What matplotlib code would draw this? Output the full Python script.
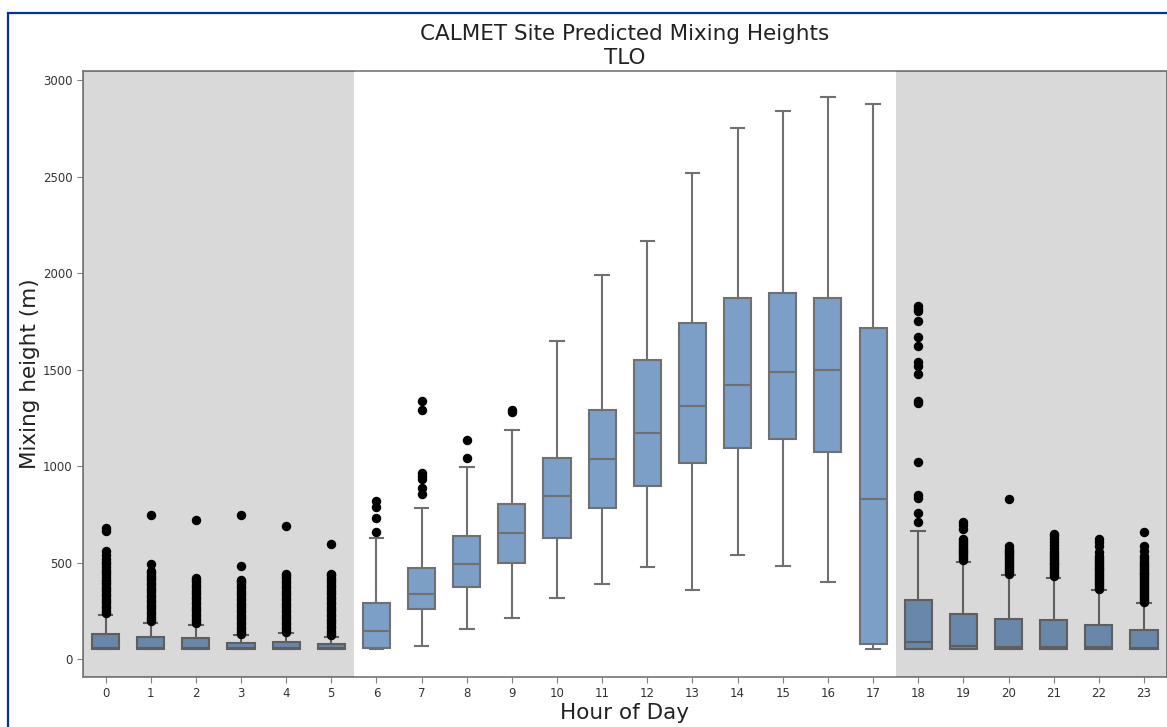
import numpy as np
import matplotlib.pyplot as plt
from matplotlib.patches import Rectangle

# hora do dia
hours = list(range(24))

# estatisticas das caixas (m)
q1 = [52, 52, 52, 52, 52, 52, 57, 260, 372, 499, 625, 782, 897, 1016, 1096, 1139, 1075, 78,
      54, 54, 54, 54, 54, 54]
med = [58, 56, 56, 58, 58, 58, 143, 339, 493, 651, 845, 1039, 1170, 1312, 1420, 1489, 1498, 828,
       88, 65, 62, 62, 62, 57]
q3 = [130, 114, 109, 83, 88, 79, 291, 473, 637, 805, 1042, 1292, 1551, 1742, 1870, 1894, 1872, 1714,
      305, 235, 208, 204, 178, 152]
whislo = [50, 50, 50, 50, 50, 50, 50, 65, 156, 215, 317, 391, 479, 358, 538, 481, 398, 52,
          50, 50, 50, 50, 50, 50]
whishi = [230, 187, 177, 123, 135, 114, 627, 782, 997, 1188, 1648, 1991, 2166, 2519, 2750, 2838, 2910, 2874,
          665, 504, 434, 422, 356, 291]

# outliers
fliers = [
    [238, 250, 262, 275, 288, 300, 312, 325, 338, 350, 362, 375, 388, 400, 412, 425, 438, 450,
     462, 475, 490, 505, 520, 540, 558, 665, 678],
    [195, 207, 220, 232, 245, 258, 270, 282, 295, 308, 320, 332, 345, 358, 370, 382, 395, 408,
     420, 432, 445, 455, 490, 748],
    [185, 197, 210, 222, 235, 248, 260, 272, 285, 298, 310, 322, 335, 348, 360, 372, 385, 398,
     410, 420, 718],
    [130, 142, 155, 167, 180, 192, 205, 218, 230, 242, 255, 268, 280, 292, 305, 318, 330, 342,
     355, 368, 380, 392, 405, 412, 481, 744],
    [142, 155, 167, 180, 192, 205, 218, 230, 242, 255, 268, 280, 292, 305, 318, 330, 342, 355,
     368, 380, 392, 405, 418, 430, 440, 689],
    [122, 134, 147, 160, 172, 185, 198, 210, 222, 235, 248, 260, 272, 285, 298, 310, 322, 335,
     348, 360, 372, 385, 398, 410, 422, 435, 443, 597],
    [660, 732, 788, 820],
    [853, 888, 932, 949, 966, 1290, 1338],
    [1044, 1136],
    [1278, 1291],
    [], [], [], [], [], [], [], [],
    [712, 755, 836, 848, 1021, 1326, 1338, 1477, 1520, 1541, 1624, 1668, 1751, 1801, 1815, 1829],
    [512, 522, 532, 542, 552, 562, 572, 582, 592, 602, 612, 620, 675, 695, 710],
    [442, 452, 462, 472, 482, 492, 502, 512, 522, 532, 542, 552, 562, 572, 585, 828],
    [430, 440, 450, 460, 470, 480, 490, 500, 510, 520, 530, 540, 550, 560, 575, 590, 605, 620,
     635, 646],
    [364, 374, 384, 394, 404, 414, 424, 434, 444, 454, 464, 474, 484, 494, 504, 514, 524, 534,
     555, 585, 605, 620],
    [298, 308, 318, 328, 338, 348, 358, 368, 378, 388, 398, 408, 418, 428, 438, 448, 458, 468,
     478, 488, 498, 510, 522, 533, 560, 585, 660],
]

stats = [dict(q1=a, med=b, q3=c, whislo=d, whishi=e, fliers=f)
         for a, b, c, d, e, f in zip(q1, med, q3, whislo, whishi, fliers)]

line_c = '#707070'
box_c = '#7b9fc7'

fig = plt.figure(figsize=(11.67, 7.27), dpi=100)
ax = fig.add_axes([0.0711, 0.0688, 0.9285, 0.8336])

ax.bxp(stats, positions=hours, widths=0.6, patch_artist=True,
       boxprops=dict(facecolor=box_c, edgecolor=line_c, linewidth=1.5),
       whiskerprops=dict(color=line_c, linewidth=1.5),
       capprops=dict(color=line_c, linewidth=1.5),
       medianprops=dict(color=line_c, linewidth=1.5),
       flierprops=dict(marker='o', markerfacecolor='k', markeredgecolor='k', markersize=5.8))

# periodo noturno
ax.axvspan(-0.5, 5.5, color='k', alpha=0.15, lw=0, zorder=5)
ax.axvspan(17.5, 23.5, color='k', alpha=0.15, lw=0, zorder=5)

ax.set_xlim(-0.5, 23.5)
ax.set_ylim(-93, 3047)
ax.set_xticks(hours)
ax.set_xticklabels([str(h) for h in hours])
ax.set_yticks([0, 500, 1000, 1500, 2000, 2500, 3000])

for s in ax.spines.values():
    s.set_color('#808080')
    s.set_linewidth(1.3)
ax.tick_params(colors='#808080', labelcolor='#333333', labelsize=8.5, length=4)

ax.set_title("CALMET Site Predicted Mixing Heights\nTLO", fontsize=15.5, color='#222222',
             linespacing=1.25, pad=5)
ax.set_xlabel("Hour of Day", fontsize=15.5, color='#222222', labelpad=2)
ax.set_ylabel("Mixing height (m)", fontsize=15.5, color='#222222', labelpad=2)

# moldura azul
fig.patches.append(Rectangle((0.0068, -0.2), 1.2, 1.182, transform=fig.transFigure,
                             fill=False, edgecolor='#0033a0', linewidth=1.6))

fig.savefig('out.png', dpi=100)
